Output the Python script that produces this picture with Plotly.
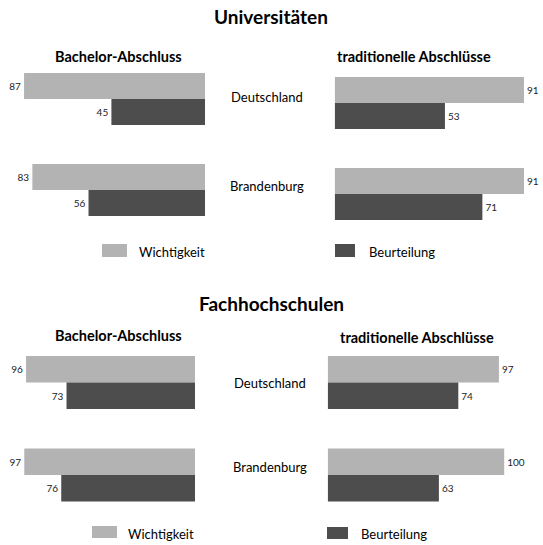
import plotly.graph_objects as go

W, H = 543, 545

categories = ["Deutschland", "Brandenburg"]
series_names = ["Wichtigkeit", "Beurteilung"]
section_titles = ["Universitäten", "Fachhochschulen"]
panel_titles = ["Bachelor-Abschluss", "traditionelle Abschlüsse"]

uni_bachelor_wichtigkeit = [87, 83]
uni_bachelor_beurteilung = [45, 56]
uni_trad_wichtigkeit = [91, 91]
uni_trad_beurteilung = [53, 71]
fh_bachelor_wichtigkeit = [96, 97]
fh_bachelor_beurteilung = [73, 76]
fh_trad_wichtigkeit = [97, 100]
fh_trad_beurteilung = [74, 63]

LIGHT = "#b3b3b3"
DARK = "#4d4d4d"
FONT = "Lato, 'Open Sans', sans-serif"
colors = [LIGHT, DARK]


def px_x(x):
    return x / W


def px_y(y):
    return 1 - y / H


fig = go.Figure()

panels = [
    ("", uni_bachelor_wichtigkeit, uni_bachelor_beurteilung, (0, 205), (99, 190), 2.08, True),
    ("2", uni_trad_wichtigkeit, uni_trad_beurteilung, (334.7, 543), (103, 194), 2.08, False),
    ("3", fh_bachelor_wichtigkeit, fh_bachelor_beurteilung, (0, 195), (382.5, 475), 1.76, True),
    ("4", fh_trad_wichtigkeit, fh_trad_beurteilung, (327.7, 543), (382.5, 475), 1.765, False),
]

layout_axes = {}
for suffix, wv, bv, (x0, x1), (c0, c1), scale, rev in panels:
    for name, vals, col in zip(series_names, [wv, bv], colors):
        fig.add_trace(go.Bar(
            x=vals, y=categories, orientation="h", name=name,
            marker=dict(color=col, line=dict(width=0)),
            texttemplate="%{x}", textposition="outside",
            textfont=dict(size=10, color="#222222", family=FONT),
            cliponaxis=False, showlegend=False,
            xaxis="x" + suffix, yaxis="y" + suffix,
        ))
    span = (x1 - x0) / scale
    pitch = c1 - c0
    ytop = c0 - pitch / 2
    ybot = c1 + pitch / 2
    layout_axes["xaxis" + suffix] = dict(
        domain=[px_x(x0), px_x(x1)],
        range=[span, 0] if rev else [0, span],
        showgrid=False, zeroline=False, showticklabels=False, showline=False,
        anchor="y" + suffix, fixedrange=True,
    )
    layout_axes["yaxis" + suffix] = dict(
        domain=[px_y(ybot), px_y(ytop)],
        type="category", categoryarray=categories, categoryorder="array",
        range=[1.5, -0.5],
        showgrid=False, zeroline=False, showticklabels=False, showline=False,
        anchor="x" + suffix, fixedrange=True,
    )

annotations = []
shapes = []


def text(t, x, y, size, bold=False, xanchor="center"):
    annotations.append(dict(
        text=f"<b>{t}</b>" if bold else t,
        x=px_x(x), y=px_y(y), xref="paper", yref="paper",
        xanchor=xanchor, yanchor="middle", showarrow=False,
        font=dict(size=size, family=FONT, color="#000000"),
    ))


text(section_titles[0], 271, 17, 19, bold=True)
text(section_titles[1], 271, 303, 19, bold=True)
text(panel_titles[0], 118, 56, 14.5, bold=True)
text(panel_titles[1], 414, 57, 14.5, bold=True)
text(panel_titles[0], 118, 335, 14.5, bold=True)
text(panel_titles[1], 417, 337, 14.5, bold=True)
text(categories[0], 267, 97, 13)
text(categories[1], 267, 186, 13)
text(categories[0], 270, 383, 13)
text(categories[1], 270, 467, 13)

legend_specs = [
    (series_names[0], LIGHT, (102, 127), (244, 257), 137, 252),
    (series_names[1], DARK, (335, 355), (244, 257), 367, 252),
    (series_names[0], LIGHT, (92, 117), (526, 538), 126, 534),
    (series_names[1], DARK, (327, 348), (527, 539), 359, 534),
]
for name, col, (sx0, sx1), (sy0, sy1), tx, ty in legend_specs:
    shapes.append(dict(
        type="rect", xref="paper", yref="paper",
        x0=px_x(sx0), x1=px_x(sx1), y0=px_y(sy1), y1=px_y(sy0),
        fillcolor=col, line=dict(width=0),
    ))
    text(name, tx, ty, 13, xanchor="left")

fig.update_layout(
    width=W, height=H,
    margin=dict(l=0, r=0, t=0, b=0),
    paper_bgcolor="white", plot_bgcolor="white",
    barmode="group", bargap=0.428, bargroupgap=0,
    showlegend=False,
    annotations=annotations, shapes=shapes,
    font=dict(family=FONT),
    **layout_axes,
)

fig.write_html("out.html", config={"displayModeBar": False})
